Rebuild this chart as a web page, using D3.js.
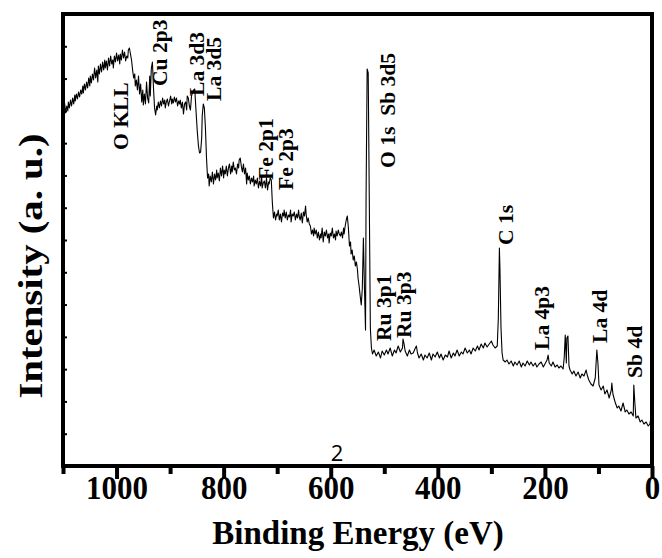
<!DOCTYPE html>
<html>
<head>
<meta charset="utf-8">
<script src="https://cdn.jsdelivr.net/npm/d3@7/dist/d3.min.js"></script>
<style>
  body { margin: 0; background: #fff; }
  svg text { fill: #000; }
</style>
</head>
<body>
<div id="chart"></div>
<script>
// XPS survey spectrum, [binding energy (eV), counts]
const spectrum = [
  [1099,3560],[1097,3630],[1095,3530],[1093,3600],[1091,3550],[1090,3640],[1088,3580],[1086,3660],
  [1084,3600],[1082,3680],[1080,3620],[1078,3710],[1077,3650],[1075,3720],[1073,3670],[1071,3740],
  [1069,3690],[1067,3760],[1065,3720],[1063,3800],[1062,3730],[1060,3820],[1058,3760],[1056,3840],
  [1054,3780],[1052,3880],[1050,3800],[1049,3900],[1047,3830],[1045,3920],[1043,3860],[1041,3980],
  [1039,3880],[1037,3960],[1035,3840],[1034,4000],[1032,3920],[1030,4020],[1028,3940],[1026,4040],
  [1024,3960],[1022,4060],[1021,3980],[1019,4050],[1017,3960],[1015,4080],[1013,4000],[1011,4100],
  [1009,4020],[1007,4060],[1006,3980],[1004,4100],[1002,4040],[1000,4130],[998,4050],[996,4110],
  [994,4020],[993,4120],[991,4060],[989,4160],[987,4080],[985,4140],[983,4050],[981,4100],
  [979,4080],[978,4160],[976,4180],[974,4120],[972,4060],[970,3960],[968,3880],[966,3920],
  [965,3800],[963,3860],[961,3760],[959,3900],[957,3720],[955,3820],[953,3640],[951,3760],
  [950,3610],[948,3720],[946,3620],[944,3840],[942,3680],[940,3630],[938,3900],[937,3700],
  [935,3980],[933,4040],[931,3780],[929,3580],[927,3510],[925,3600],[924,3560],[922,3640],
  [920,3580],[918,3650],[916,3600],[914,3680],[912,3620],[910,3660],[909,3580],[907,3640],
  [905,3670],[903,3600],[901,3650],[899,3700],[897,3620],[896,3670],[894,3630],[892,3690],
  [890,3640],[888,3680],[886,3600],[884,3650],[882,3620],[881,3660],[879,3580],[877,3640],
  [875,3520],[873,3620],[871,3640],[869,3560],[868,3700],[866,3680],[864,3600],[862,3560],
  [860,3700],[858,3740],[856,3760],[854,3770],[853,3680],[851,3500],[849,3330],[847,3200],
  [845,3130],[843,3140],[841,3280],[840,3500],[838,3620],[836,3580],[834,3380],[832,3080],
  [830,2880],[828,2920],[827,2800],[825,2900],[823,2840],[821,2940],[819,2820],[817,2920],
  [815,2860],[813,2960],[812,2880],[810,2930],[808,2850],[806,2980],[804,2900],[802,3000],
  [800,2880],[799,2960],[797,2920],[795,3000],[793,2900],[791,2980],[789,3020],[787,2920],
  [785,3000],[784,2940],[782,3040],[780,2960],[778,2980],[776,2920],[774,3020],[772,2980],
  [771,3060],[769,3080],[767,3000],[765,2940],[763,3020],[761,2920],[759,2980],[757,2820],
  [756,2930],[754,2860],[752,2900],[750,2820],[748,2880],[746,2840],[744,2900],[743,2800],
  [741,2860],[739,2820],[737,2880],[735,2780],[733,2850],[731,2800],[729,2900],[728,2780],
  [726,2830],[724,2850],[722,2780],[720,2880],[718,2760],[716,2840],[715,2820],[713,2880],
  [711,2860],[709,2630],[707,2480],[705,2540],[703,2460],[701,2520],[700,2500],[698,2560],
  [696,2460],[694,2520],[692,2440],[690,2530],[688,2500],[687,2560],[685,2480],[683,2540],
  [681,2460],[679,2510],[677,2490],[675,2560],[674,2440],[672,2520],[670,2500],[668,2540],
  [666,2460],[664,2520],[662,2480],[660,2560],[659,2500],[657,2460],[655,2530],[653,2430],
  [651,2540],[649,2500],[647,2600],[646,2520],[644,2440],[642,2480],[640,2420],[638,2400],
  [636,2320],[634,2360],[632,2300],[631,2380],[629,2320],[627,2360],[625,2280],[623,2340],
  [621,2260],[619,2320],[618,2280],[616,2380],[614,2240],[612,2340],[610,2300],[608,2360],
  [606,2280],[604,2320],[603,2230],[601,2330],[599,2300],[597,2380],[595,2280],[593,2320],
  [591,2260],[590,2350],[588,2300],[586,2360],[584,2320],[582,2300],[580,2340],[578,2280],
  [576,2380],[575,2320],[573,2400],[571,2460],[569,2500],[567,2380],[565,2200],[563,2240],
  [562,2120],[560,2160],[558,2060],[556,2100],[554,2000],[552,2040],[550,1960],[549,1880],
  [547,1800],[545,1700],[543,1610],[541,1780],[539,2280],[537,1780],[535,1360],[534,2680],
  [532,3970],[530,3930],[528,2680],[526,1380],[524,1180],[522,1120],[519,1160],[515,1100],
  [511,1140],[507,1080],[504,1150],[500,1110],[496,1160],[493,1120],[489,1180],[485,1100],
  [481,1160],[478,1130],[474,1200],[470,1140],[466,1180],[465,1270],[463,1220],[461,1150],
  [457,1100],[453,1160],[450,1120],[446,1130],[442,1180],[440,1200],[438,1130],[435,1080],
  [431,1120],[427,1060],[424,1110],[420,1080],[416,1130],[412,1060],[409,1120],[405,1090],
  [401,1140],[397,1080],[394,1120],[390,1060],[386,1110],[382,1090],[379,1150],[375,1080],
  [371,1130],[368,1100],[364,1160],[360,1100],[356,1140],[353,1120],[349,1180],[345,1130],
  [341,1160],[338,1120],[334,1180],[330,1150],[326,1200],[323,1160],[319,1220],[315,1180],
  [312,1230],[308,1190],[304,1220],[300,1250],[297,1210],[293,1180],[289,1200],[287,1480],
  [285,2180],[284,1980],[282,1380],[280,1130],[278,1060],[274,1040],[271,1060],[267,1020],
  [263,1050],[259,1000],[256,1040],[252,1010],[248,1050],[244,990],[241,1030],[237,1000],
  [233,1050],[229,1010],[226,1040],[222,1000],[218,1030],[215,990],[211,1020],[207,1040],
  [203,990],[200,1020],[196,1060],[194,1110],[192,1030],[188,1000],[185,1040],[181,990],
  [177,1010],[174,980],[170,1000],[166,970],[164,1080],[162,1310],[160,1030],[159,1280],
  [157,1300],[155,1000],[153,960],[149,920],[146,950],[142,900],[138,940],[134,880],
  [131,920],[127,900],[123,960],[121,910],[118,860],[114,820],[110,800],[106,880],
  [103,1160],[101,1030],[99,810],[95,760],[91,800],[88,720],[84,760],[80,680],
  [76,760],[75,830],[73,720],[69,640],[65,580],[62,600],[58,550],[54,630],
  [50,540],[47,560],[43,520],[39,540],[35,500],[34,810],[32,630],[30,480],
  [26,500],[22,440],[19,460],[15,420],[11,440],[7,400],[4,420],[2,480]
];

let xMajorTicks = [1000, 800, 600, 400, 200, 0];
let xMinorTicks = [1100, 900, 700, 500, 300, 100];

// peak annotations: text, binding energy and counts at the start of the label
let peakNames = ['O KLL', 'Cu 2p3', 'La 3d3', 'La 3d5', 'Fe 2p1', 'Fe 2p3', 'O 1s  Sb 3d5',
                 'C 1s', 'Ru 3p1', 'Ru 3p3', 'La 4p3', 'La 4d', 'Sb 4d'];
let peakEnergy = [978, 905, 836, 804, 707, 670, 480, 259, 487, 450, 192, 84, 19];
let peakCounts = [3160, 3800, 3700, 3650, 2860, 2760, 2980, 2210, 1250, 1280, 1160, 1230, 880];

let width = 662, height = 558;
let plot = {left: 63, right: 652, top: 14, bottom: 466};
let serif = '"Times New Roman", "Liberation Serif", serif';

let svg = d3.select('#chart').append('svg')
    .attr('width', width)
    .attr('height', height);

let x = d3.scaleLinear().domain([1100, 0]).range([plot.left, plot.right]);
let y = d3.scaleLinear().domain([0, 4520]).range([plot.bottom, plot.top]);

// spectrum line
let line = d3.line()
    .x(function(d){ return x(d[0]); })
    .y(function(d){ return y(d[1]); });

svg.append('path')
    .datum(spectrum)
    .attr('d', line)
    .attr('fill', 'none')
    .attr('stroke', '#000')
    .attr('stroke-width', 1.1)
    .attr('stroke-linejoin', 'round');

// y ticks (no labels, pointing in)
let yAxis = svg.append('g')
    .attr('transform', 'translate(' + plot.left + ',0)')
    .call(d3.axisLeft(y).tickValues(d3.range(1, 14).map(function(k){ return k * 4520 / 14; }))
        .tickSize(-4).tickFormat(''));
yAxis.select('.domain').remove();
yAxis.selectAll('line').attr('stroke', '#000').attr('stroke-width', 2);

// x minor ticks
let xMinor = svg.append('g')
    .attr('transform', 'translate(0,' + plot.bottom + ')')
    .call(d3.axisBottom(x).tickValues(xMinorTicks).tickSize(8).tickFormat(''));
xMinor.select('.domain').remove();
xMinor.selectAll('line').attr('stroke', '#000').attr('stroke-width', 4);

// x major ticks + labels
let xAxis = svg.append('g')
    .attr('transform', 'translate(0,' + plot.bottom + ')')
    .call(d3.axisBottom(x).tickValues(xMajorTicks).tickSize(13).tickFormat(d3.format('d')));
xAxis.select('.domain').remove();
xAxis.selectAll('line').attr('stroke', '#000').attr('stroke-width', 4);
xAxis.selectAll('text')
    .attr('y', 0).attr('dy', null)
    .attr('transform', 'translate(0,33) scale(1,1.12)')
    .style('font-family', serif)
    .style('font-size', '31px')
    .style('font-weight', 'bold')
    .attr('fill', '#000');

// frame
svg.append('rect')
    .attr('x', plot.left).attr('y', plot.top)
    .attr('width', plot.right - plot.left)
    .attr('height', plot.bottom - plot.top)
    .attr('fill', 'none')
    .attr('stroke', '#000')
    .attr('stroke-width', 4);

// peak labels
peakNames.forEach(function(name, i){
    svg.append('text')
        .attr('transform', 'translate(' + x(peakEnergy[i]) + ',' + y(peakCounts[i]) + ') rotate(-90) scale(1.08,1)')
        .style('font-family', serif)
        .style('font-size', '20px')
        .style('font-weight', 'bold')
        .style('white-space', 'pre')
        .text(name);
});

// axis titles
svg.append('text')
    .attr('transform', 'translate(358,544) scale(1,1.05)')
    .attr('text-anchor', 'middle')
    .style('font-family', serif)
    .style('font-size', '33px')
    .style('font-weight', 'bold')
    .text('Binding Energy (eV)');

svg.append('text')
    .attr('transform', 'translate(42,266) rotate(-90) scale(1.2,1)')
    .attr('text-anchor', 'middle')
    .style('font-family', serif)
    .style('font-size', '34px')
    .style('font-weight', 'bold')
    .text('Intensity (a. u.)');

// stray label inside the plot
svg.append('text')
    .attr('x', 337).attr('y', 461)
    .attr('text-anchor', 'middle')
    .style('font-family', '"Open Sans", sans-serif')
    .style('font-size', '22px')
    .text('2');
</script>
</body>
</html>
